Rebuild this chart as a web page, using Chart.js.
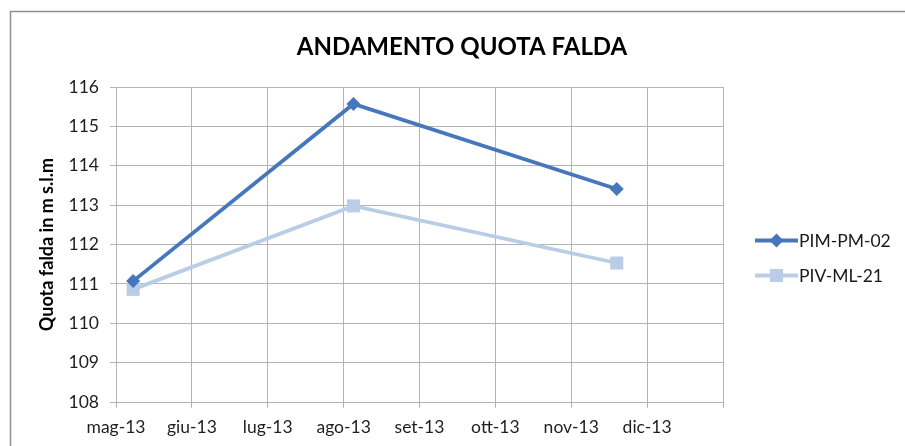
<!DOCTYPE html>
<html>
<head>
<meta charset="utf-8">
<script src="https://cdn.jsdelivr.net/npm/chart.js"></script>
<style>
  html, body { margin: 0; padding: 0; background: #fff; }
  canvas { display: block; }
</style>
</head>
<body>
<canvas id="myChart" width="905" height="446"></canvas>
<script>
// tick labels of the month axis (last gridline has no label)
var monthLabels = ["mag-13", "giu-13", "lug-13", "ago-13", "set-13", "ott-13", "nov-13", "dic-13", ""];
// dates of the measurements
var dates = ["2013-05-08", "2013-08-05", "2013-11-19"];
var seriesNames = ["PIM-PM-02", "PIV-ML-21"];
var pimValues = [111.07, 115.57, 113.41];
var pivValues = [110.86, 112.98, 111.53];
var yTicks = [108, 109, 110, 111, 112, 113, 114, 115, 116];

var darkBlue = "#4677BC";
var lightBlue = "#B9CDE6";
var gridGray = "#B4B4B4";

// month index from mag-13, with the day as a fraction of the month
function monthIndex(s) {
    var p = s.split("-");
    var y = +p[0], m = +p[1], d = +p[2];
    var days = new Date(y, m, 0).getDate();
    return (y - 2013) * 12 + (m - 5) + (d - 1) / days;
}

function toPoints(values) {
    return values.map(function (v, i) { return { x: monthIndex(dates[i]), y: v }; });
}

function drawMarker(ctx, style, color, x, y) {
    ctx.fillStyle = color;
    ctx.beginPath();
    if (style === "rectRot") {
        ctx.moveTo(x, y - 7); ctx.lineTo(x + 7, y); ctx.lineTo(x, y + 7); ctx.lineTo(x - 7, y);
        ctx.closePath();
    } else {
        ctx.rect(x - 6.5, y - 6.5, 13, 13);
    }
    ctx.fill();
}

var decor = {
    id: "decor",
    beforeDraw: function (chart) {
        var ctx = chart.ctx;
        ctx.save();
        ctx.fillStyle = "#fff";
        ctx.fillRect(0, 0, chart.width, chart.height);
        ctx.strokeStyle = "#8E8E8E";
        ctx.lineWidth = 1.5;
        ctx.strokeRect(10.5, 11.5, 920, 460);
        ctx.restore();
    },
    afterDraw: function (chart) {
        var ctx = chart.ctx;
        var a = chart.chartArea;
        ctx.save();
        // title
        ctx.fillStyle = "#000";
        ctx.font = "bold 24px Lato";
        ctx.textAlign = "center";
        ctx.textBaseline = "middle";
        ctx.fillText("ANDAMENTO QUOTA FALDA", 462, 47);
        // legend
        var ds = chart.data.datasets;
        ctx.font = "17.5px Lato";
        ctx.textAlign = "left";
        for (var i = 0; i < ds.length; i++) {
            var ly = a.top + 153.5 + i * 35;
            var lx = a.right + 32;
            ctx.strokeStyle = ds[i].borderColor;
            ctx.lineWidth = 3.8;
            ctx.beginPath();
            ctx.moveTo(lx, ly);
            ctx.lineTo(lx + 43, ly);
            ctx.stroke();
            drawMarker(ctx, ds[i].pointStyle, ds[i].pointBackgroundColor, lx + 21.5, ly);
            ctx.fillStyle = "#1a1a1a";
            ctx.fillText(ds[i].label, lx + 44, ly + 1);
        }
        ctx.restore();
    }
};

new Chart("myChart", {
    type: "line",
    data: {
        datasets: [{
            label: seriesNames[0],
            data: toPoints(pimValues),
            borderColor: darkBlue,
            backgroundColor: darkBlue,
            pointBackgroundColor: darkBlue,
            pointBorderColor: darkBlue,
            borderWidth: 3.8,
            pointStyle: "rectRot",
            pointRadius: 7,
            pointBorderWidth: 0,
            tension: 0
        }, {
            label: seriesNames[1],
            data: toPoints(pivValues),
            borderColor: lightBlue,
            backgroundColor: lightBlue,
            pointBackgroundColor: lightBlue,
            pointBorderColor: lightBlue,
            borderWidth: 3.8,
            pointStyle: "rect",
            pointRadius: 9.2,
            pointBorderWidth: 0,
            tension: 0
        }]
    },
    options: {
        responsive: false,
        animation: false,
        devicePixelRatio: 1,
        layout: { padding: { left: 20, right: 182, top: 87, bottom: 0 } },
        plugins: {
            legend: { display: false },
            title: { display: false },
            tooltip: { enabled: false }
        },
        scales: {
            x: {
                type: "linear",
                min: 0,
                max: monthLabels.length - 1,
                afterFit: function (s) { s.height = 44; },
                grid: { color: gridGray, lineWidth: 1, tickLength: 6 },
                border: { color: gridGray, width: 1 },
                ticks: {
                    stepSize: 1,
                    padding: 9,
                    autoSkip: false,
                    maxRotation: 0,
                    color: "#1e1e1e",
                    font: { family: "Lato", size: 17.5 },
                    callback: function (v) { return monthLabels[v]; }
                }
            },
            y: {
                min: yTicks[0],
                max: yTicks[yTicks.length - 1],
                afterFit: function (s) { s.width = 96; },
                grid: { color: gridGray, lineWidth: 1, tickLength: 6 },
                border: { color: gridGray, width: 1 },
                ticks: {
                    stepSize: 1,
                    padding: 11,
                    color: "#1e1e1e",
                    font: { family: "Lato", size: 17.5 }
                },
                title: {
                    display: true,
                    text: "Quota falda in m s.l.m",
                    color: "#000",
                    font: { family: "Lato", size: 18, weight: "bold" },
                    padding: { top: 16, bottom: 0 }
                }
            }
        }
    },
    plugins: [decor]
});
</script>
</body>
</html>
